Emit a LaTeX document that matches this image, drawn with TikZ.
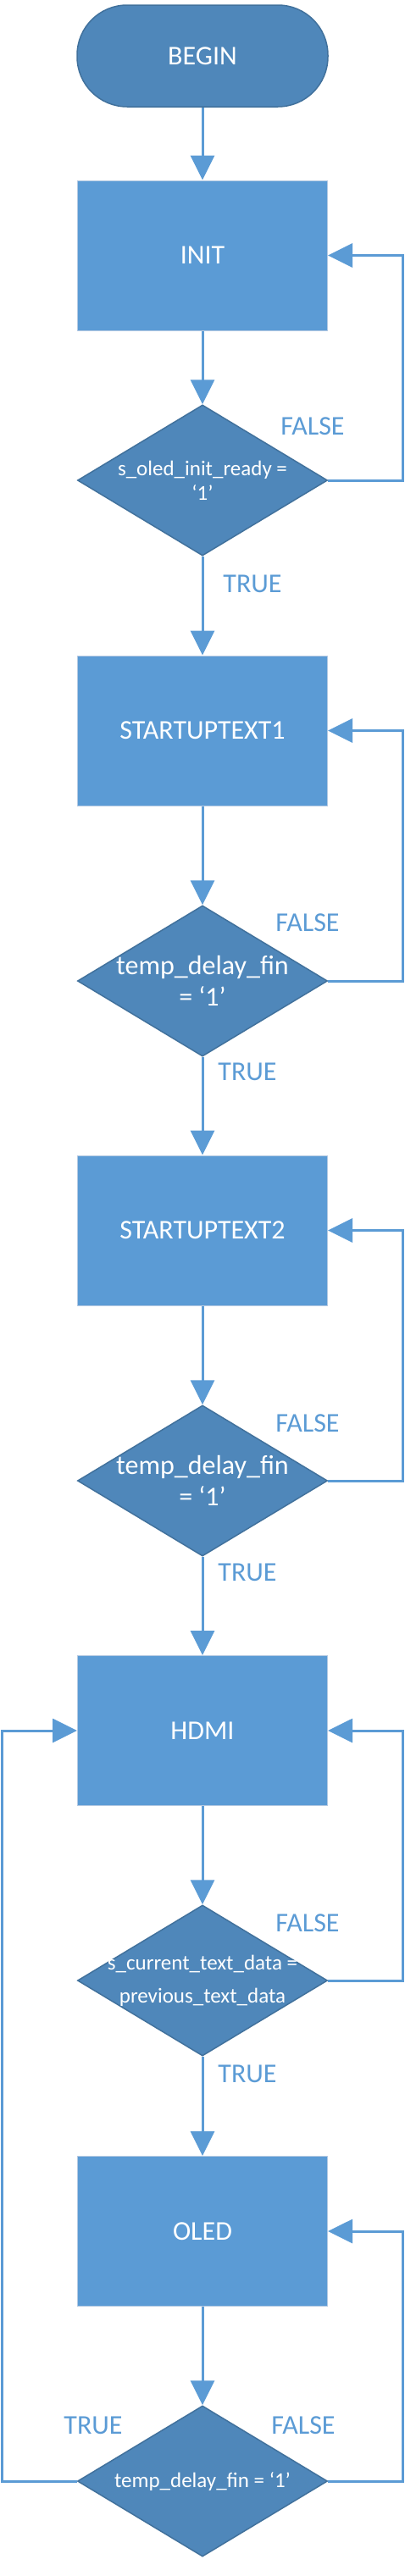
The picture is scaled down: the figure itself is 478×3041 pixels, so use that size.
\documentclass[tikz,border=0pt]{standalone}
\usepackage{fontspec}
\setmainfont{Carlito}
\usetikzlibrary{shapes.geometric,arrows.meta}
\definecolor{boxblue}{HTML}{5B9BD5}
\definecolor{darkblue}{HTML}{4F87BA}
\definecolor{edgeblue}{HTML}{41719C}
\definecolor{boxedge}{HTML}{B4C9E2}
\begin{document}
\begin{tikzpicture}[x=1pt,y=-1pt,
  proc/.style={rectangle, fill=boxblue, draw=boxedge, line width=1pt, minimum width=295pt, minimum height=177pt, inner sep=0pt, text=white, font=\fontsize{32}{38}\selectfont},
  term/.style={rectangle, rounded corners=59pt, fill=darkblue, draw=edgeblue, line width=1.5pt, minimum width=296pt, minimum height=120pt, inner sep=0pt, text=white, font=\fontsize{32}{38}\selectfont},
  dia/.style={diamond, fill=darkblue, draw=edgeblue, line width=1.5pt, minimum width=295pt, minimum height=178pt, inner sep=0pt},
  dtext/.style={text=white, align=center, inner sep=0pt},
  flow/.style={draw=boxblue, line width=3pt, -{Triangle[width=28pt,length=29pt]}},
  lbl/.style={text=boxblue, font=\fontsize{32}{38}\selectfont, inner sep=0pt}
]
\useasboundingbox (0,0) rectangle (478,3041);

\node[term] (begin) at (239,66) {BEGIN};
\node[proc] (init) at (239,301.5) {INIT};
\node[dia] (d1) at (239,567) {};
\node[dtext, font=\fontsize{25}{29}\selectfont] (t1) at (d1) {s\_oled\_init\_ready =\\‘1’};
\node[proc] (st1) at (239,862.5) {STARTUPTEXT1};
\node[dia] (d2) at (239,1158) {};
\node[dtext, font=\fontsize{32}{37}\selectfont] (t2) at (d2) {temp\_delay\_fin\\= ‘1’};
\node[proc] (st2) at (239,1452.5) {STARTUPTEXT2};
\node[dia] (d3) at (239,1748) {};
\node[dtext, font=\fontsize{32}{37}\selectfont] (t3) at (d3) {temp\_delay\_fin\\= ‘1’};
\node[proc] (hdmi) at (239,2043) {HDMI};
\node[dia] (d4) at (239,2338) {};
\node[dtext, font=\fontsize{25}{39}\selectfont] (t4) at (d4) {s\_current\_text\_data =\\previous\_text\_data};
\node[proc] (oled) at (239,2634) {OLED};
\node[dia] (d5) at (239,2929) {};
\node[dtext, font=\fontsize{25}{30}\selectfont] (t5) at (d5) {temp\_delay\_fin = ‘1’};

\draw[flow] (begin.south) -- (init.north);
\draw[flow] (init.south) -- (d1.north);
\draw[flow] (d1.south) -- (st1.north);
\draw[flow] (d1.east) -- ++(88,0) |- (init.east);
\draw[flow] (st1.south) -- (d2.north);
\draw[flow] (d2.south) -- (st2.north);
\draw[flow] (d2.east) -- ++(88,0) |- (st1.east);
\draw[flow] (st2.south) -- (d3.north);
\draw[flow] (d3.south) -- (hdmi.north);
\draw[flow] (d3.east) -- ++(88,0) |- (st2.east);
\draw[flow] (hdmi.south) -- (d4.north);
\draw[flow] (d4.south) -- (oled.north);
\draw[flow] (d4.east) -- ++(88,0) |- (hdmi.east);
\draw[flow] (oled.south) -- (d5.north);
\draw[flow] (d5.east) -- ++(88,0) |- (oled.east);
\draw[flow] (d5.west) -- ++(-88,0) |- (hdmi.west);

\node[lbl] (f1) at (369,503) {FALSE};
\node[lbl] (tr1) at (298,689) {TRUE};
\node[lbl] (f2) at (363,1089) {FALSE};
\node[lbl] (tr2) at (292,1265) {TRUE};
\node[lbl] (f3) at (363,1680) {FALSE};
\node[lbl] (tr3) at (292,1856) {TRUE};
\node[lbl] (f4) at (363,2270) {FALSE};
\node[lbl] (tr4) at (292,2448) {TRUE};
\node[lbl] (f5) at (358,2863) {FALSE};
\node[lbl] (tr5) at (110,2863) {TRUE};
\end{tikzpicture}
\end{document}
